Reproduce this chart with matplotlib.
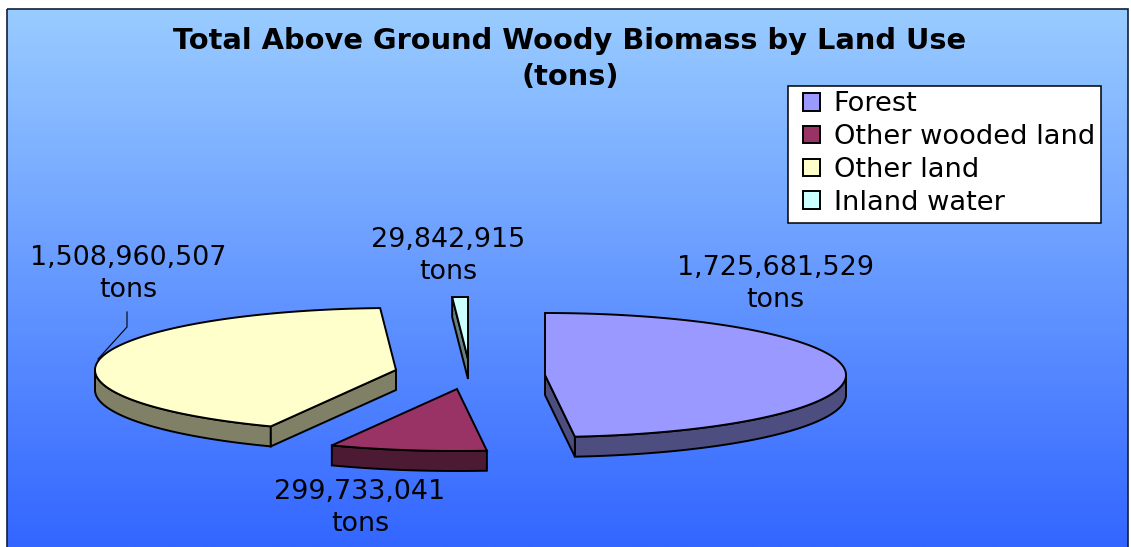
import numpy as np
import matplotlib
matplotlib.use("Agg")
import matplotlib.pyplot as plt
from matplotlib.patches import Polygon, Patch, Rectangle
from matplotlib.colors import LinearSegmentedColormap, to_rgb

categories = ["Forest", "Other wooded land", "Other land", "Inland water"]
tons = [1725681529, 299733041, 1508960507, 29842915]
colors = ["#9999FF", "#993366", "#FFFFCC", "#CCFFFF"]

# exploded slice apex of each wedge, in pixels
CENTERS = [(545, 375), (457, 389), (396, 370), (468, 359)]
# label anchor (middle of the two lines)
LABEL_POS = [(775, 284), (360, 508), (128, 274), (448, 256)]
RX = 301
RY = 62
DEPTH = 20
W = 1131
H = 547
FONT = "DejaVu Sans"

fig = plt.figure(figsize=(W / 100, H / 100), dpi=100, facecolor="white")
ax = fig.add_axes([0, 0, 1, 1])
ax.axis("off")

# gradient background
cmap = LinearSegmentedColormap.from_list("bg", ["#99CCFF", "#3366FF"])
grad = np.linspace(0, 1, 256).reshape(-1, 1)
ax.imshow(grad, cmap=cmap, extent=[7, 1128, H, 9], aspect="auto", zorder=0)
ax.set_xlim(0, W)
ax.set_ylim(H, 0)
ax.add_patch(Rectangle((7, 9), 1121, H + 5, fill=False, ec="#10203a", lw=1.2, zorder=1))


def arc(cx, cy, a, b, dy=0):
	t = np.radians(np.linspace(a, b, max(int(abs(b - a) * 2), 2)))
	return np.column_stack([cx + RX * np.sin(t), cy - RY * np.cos(t) + dy])


def darker(c):
	r, g, b = to_rgb(c)
	return (r * 0.5, g * 0.5, b * 0.5)


total = sum(tons)
start = 0.0
for val, col, (cx, cy) in zip(tons, colors, CENTERS):
	sweep = 360.0 * val / total
	end = start + sweep
	side = darker(col)

	# outer wall, only the part that faces the viewer
	a = max(start, 90)
	b = min(end, 270)
	if b > a:
		top = arc(cx, cy, a, b)
		low = arc(cx, cy, a, b, DEPTH)
		ax.add_patch(Polygon(np.vstack([top, low[::-1]]), fc=side, ec="black", lw=1.4, zorder=3))

	# cut faces
	for ang, sign in ((start, 1), (end, -1)):
		r = np.radians(ang)
		# screen-down component of the face normal
		if sign * np.sin(r) < -1e-6:
			p = arc(cx, cy, ang, ang + 1e-3)[0]
			face = [(cx, cy), p, (p[0], p[1] + DEPTH), (cx, cy + DEPTH)]
			ax.add_patch(Polygon(face, fc=side, ec="black", lw=1.4, zorder=3))

	# top surface
	pts = np.vstack([[(cx, cy)], arc(cx, cy, start, end)])
	ax.add_patch(Polygon(pts, fc=col, ec="black", lw=1.4, zorder=4))
	start = end

# data labels
for val, (x, y) in zip(tons, LABEL_POS):
	ax.text(x, y, f"{val:,}\ntons", ha="center", va="center", fontsize=19.4,
		family=FONT, color="black", linespacing=1.28, zorder=5)

# leader line for other land
ax.plot([127, 127, 98], [312, 327, 359], color="black", lw=0.8, zorder=5)

ax.text(570, 59, "Total Above Ground Woody Biomass by Land Use\n(tons)", ha="center", va="center",
	fontsize=20.8, fontweight="bold", family=FONT, linespacing=1.35, zorder=5)

# legend box is drawn on its own, the legend padding would make it too tall
ax.add_patch(Rectangle((788, 86), 313, 137, fc="white", ec="black", lw=1.1, zorder=5.5))
handles = [Patch(fc=c, ec="black", lw=1.4) for c in colors]
leg = ax.legend(handles, categories, loc="upper left", bbox_to_anchor=(796, 84),
	bbox_transform=ax.transData, borderaxespad=0, frameon=False,
	prop={"family": FONT, "size": 19.6},
	handlelength=0.62, handleheight=0.62, handletextpad=0.5, labelspacing=0.25, borderpad=0.27)
leg.set_zorder(6)

fig.savefig("out.png", dpi=100)
